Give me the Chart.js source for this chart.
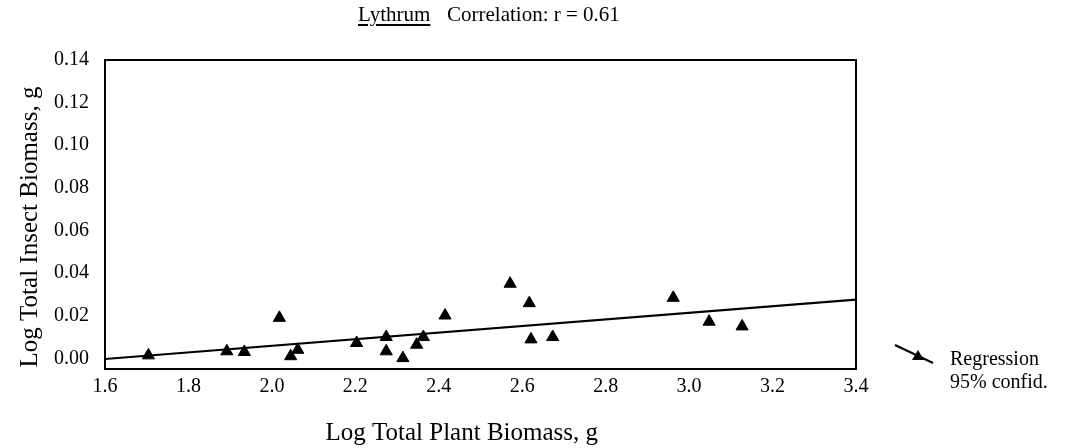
<!DOCTYPE html>
<html>
<head>
<meta charset="utf-8">
<script src="https://cdn.jsdelivr.net/npm/chart.js@4/dist/chart.umd.min.js"></script>
<style>
  html, body { margin: 0; padding: 0; background: #fff; }
  #wrap { position: relative; width: 1072px; height: 448px; font-family: "Liberation Serif", "DejaVu Serif", serif; color: #000; }
  #c { position: absolute; left: 0; top: 0; }
  #title { position: absolute; left: 0; top: 2px; font-size: 21px; white-space: nowrap; }
  #title u { position: absolute; left: 358px; top: 0; text-underline-offset: 3px; }
  #title .corr { position: absolute; left: 447px; top: 0; }
  #legend { position: absolute; left: 893px; top: 347px; font-size: 20px; line-height: 23px; white-space: nowrap; }
  #legend svg { position: absolute; left: 0; top: -4px; }
  #legend .txt { position: absolute; left: 57px; top: 0; }
</style>
</head>
<body>
<div id="wrap">
  <canvas id="c" width="1072" height="448"></canvas>
  <div id="title"><u>Lythrum</u><span class="corr">Correlation: r = 0.61</span></div>
  <div id="legend">
    <svg width="44" height="26" viewBox="0 0 44 26"><line x1="2" y1="2" x2="40" y2="20" stroke="#000" stroke-width="2.2"/><polygon points="25,7 31,17 19,17" fill="#000"/></svg>
    <div class="txt">Regression<br>95% confid.</div>
  </div>
</div>
<script>
// Observed points: log total plant biomass (x) and log total insect biomass (y)
const plantBiomass = [1.704, 1.892, 1.934, 2.018, 2.045, 2.062, 2.203, 2.274, 2.274, 2.314,
                      2.347, 2.363, 2.415, 2.571, 2.617, 2.621, 2.673, 2.962, 3.048, 3.127];
const insectBiomass = [0.0014, 0.0033, 0.0030, 0.0190, 0.0010, 0.0040, 0.0072, 0.0100, 0.0033, 0.0001,
                       0.0064, 0.0100, 0.0201, 0.0350, 0.0259, 0.0089, 0.0100, 0.0284, 0.0172, 0.0150];
// Regression line end points
const regressionX = [1.6, 3.4];
const regressionY = [-0.0003, 0.0276];
// Axis ticks
const xTicks = [1.6, 1.8, 2.0, 2.2, 2.4, 2.6, 2.8, 3.0, 3.2, 3.4];
const yTicks = [0.00, 0.02, 0.04, 0.06, 0.08, 0.10, 0.12, 0.14];

const points = plantBiomass.map((x, i) => ({ x: x, y: insectBiomass[i] }));
const regLine = regressionX.map((x, i) => ({ x: x, y: regressionY[i] }));

const serif = "'Liberation Serif', 'DejaVu Serif', serif";

const frame = {
  id: 'frame',
  afterDatasetsDraw(chart) {
    const { ctx, chartArea: a } = chart;
    ctx.save();
    ctx.strokeStyle = '#000';
    ctx.lineWidth = 2;
    ctx.strokeRect(a.left, a.top, a.right - a.left, a.bottom - a.top);
    ctx.restore();
  }
};

new Chart(document.getElementById('c'), {
  type: 'scatter',
  data: {
    datasets: [
      {
        type: 'line',
        label: 'Regression',
        data: regLine,
        borderColor: '#000',
        borderWidth: 2.2,
        pointRadius: 0,
        fill: false,
        order: 2
      },
      {
        label: 'Observed',
        data: points,
        pointStyle: 'triangle',
        pointRadius: 7,
        pointBackgroundColor: '#000',
        pointBorderColor: '#000',
        pointBorderWidth: 1,
        order: 1
      }
    ]
  },
  options: {
    responsive: false,
    animation: false,
    events: [],
    layout: { padding: { left: 0, top: 60, right: 216, bottom: 0 } },
    plugins: { legend: { display: false }, tooltip: { enabled: false }, title: { display: false } },
    scales: {
      x: {
        type: 'linear',
        min: 1.6,
        max: 3.4,
        grid: { display: false, drawTicks: false },
        border: { display: false },
        afterBuildTicks(scale) { scale.ticks = xTicks.map(v => ({ value: v })); },
        afterFit(scale) { scale.height = 79; },
        ticks: {
          color: '#000',
          padding: 6,
          maxRotation: 0,
          font: { family: serif, size: 20 },
          callback: v => Number(v).toFixed(1)
        },
        title: {
          display: true,
          text: 'Log Total Plant Biomass, g\u2003\u2002',
          color: '#000',
          font: { family: serif, size: 25 },
          padding: { top: 0, bottom: 0 }
        }
      },
      y: {
        type: 'linear',
        min: -0.005,
        max: 0.14,
        grid: { display: false, drawTicks: false },
        border: { display: false },
        afterBuildTicks(scale) { scale.ticks = yTicks.map(v => ({ value: v })); },
        afterFit(scale) { scale.width = 105; },
        ticks: {
          color: '#000',
          padding: 16,
          font: { family: serif, size: 20 },
          callback: v => Number(v).toFixed(2)
        },
        title: {
          display: true,
          text: 'Log Total Insect Biomass, g\u2003',
          color: '#000',
          font: { family: serif, size: 25 },
          padding: { top: 15, bottom: 0 }
        }
      }
    }
  },
  plugins: [frame]
});
</script>
</body>
</html>
